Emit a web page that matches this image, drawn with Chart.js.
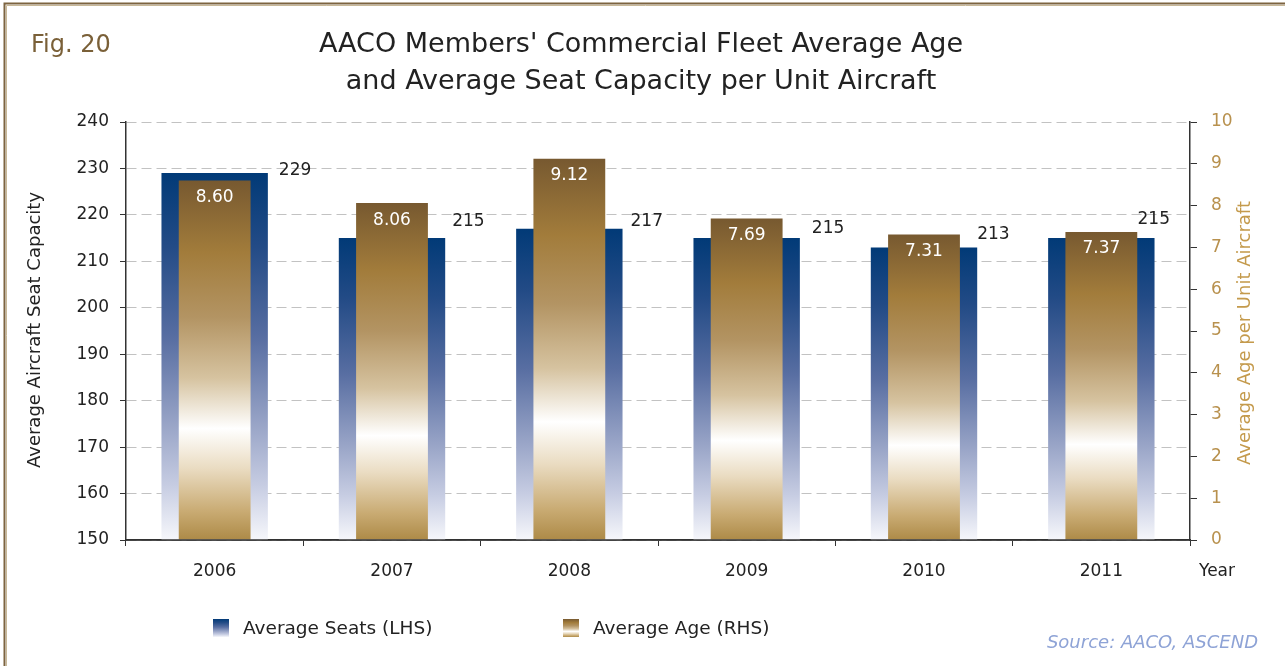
<!DOCTYPE html>
<html><head><meta charset="utf-8">
<script src="https://cdn.jsdelivr.net/npm/chart.js@4.4.1/dist/chart.umd.min.js"></script>
<style>html,body{margin:0;padding:0;background:#fff;}canvas{display:block}</style>
</head><body>
<canvas id="c" width="1285" height="666"></canvas>
<script>
const years = ['2006', '2007', '2008', '2009', '2010', '2011'];
const avgSeats = [229, 215, 217, 215, 213, 215];
const avgAge = [8.60, 8.06, 9.12, 7.69, 7.31, 7.37];
const seatLabelOffsets = [[11, -3], [7, -17], [8, -7], [12, -10], [0, -13], [-17, -19]];

const FONT = '"DejaVu Sans", sans-serif';

function barGradient(ctx, scaleId, stops, fallback) {
  const chart = ctx.chart;
  if (!chart.chartArea || ctx.type !== 'data') return fallback;
  const s = chart.scales[scaleId];
  const top = s.getPixelForValue(ctx.raw);
  const bottom = s.getPixelForValue(s.min);
  if (!isFinite(top) || !isFinite(bottom) || top === bottom) return fallback;
  const g = chart.ctx.createLinearGradient(0, top, 0, bottom);
  stops.forEach(([p, c]) => g.addColorStop(p, c));
  return g;
}
const blueStops = [[0, '#013a77'], [0.2, '#234b86'], [0.45, '#586ea2'], [0.68, '#97a3c6'], [0.85, '#c6cce2'], [1, '#f6f7fb']];
const brownStops = [[0, '#775930'], [0.2, '#a27c3b'], [0.38, '#b39463'], [0.55, '#d6c3a0'], [0.69, '#ffffff'], [0.8, '#eadcc2'], [0.92, '#c9ab73'], [1, '#ad8a47']];

const decor = {
  id: 'decor',
  afterDraw(chart) {
    const c = chart.ctx;
    c.save();
    // frame
    c.strokeStyle = '#7d6440'; c.lineWidth = 2;
    c.beginPath(); c.moveTo(4.5, 666); c.lineTo(4.5, 3.5); c.lineTo(1285, 3.5); c.stroke();
    c.strokeStyle = '#c8b898'; c.lineWidth = 1;
    c.beginPath(); c.moveTo(6.5, 666); c.lineTo(6.5, 5.5); c.lineTo(1285, 5.5); c.stroke();
    // Fig label
    c.textBaseline = 'middle';
    c.fillStyle = '#7a6038'; c.font = '24px ' + FONT; c.textAlign = 'left';
    c.fillText('Fig. 20', 31, 46);
    // title
    c.fillStyle = '#222'; c.font = '27px ' + FONT; c.textAlign = 'center';
    c.fillText("AACO Members' Commercial Fleet Average Age", 641, 45);
    c.fillText('and Average Seat Capacity per Unit Aircraft', 641, 82);
    // axis titles
    c.font = '18px ' + FONT;
    c.save(); c.translate(35, 330); c.rotate(-Math.PI / 2); c.fillStyle = '#222';
    c.fillText('Average Aircraft Seat Capacity', 0, 0); c.restore();
    c.save(); c.translate(1245, 333); c.rotate(-Math.PI / 2); c.fillStyle = '#c49a4c';
    c.fillText('Average Age per Unit Aircraft', 0, 0); c.restore();
    // Year
    c.font = '17px ' + FONT; c.fillStyle = '#222'; c.textAlign = 'left';
    c.fillText('Year', 1199, 572);
    // legend
    const legend = [
      {x: 213, text: 'Average Seats (LHS)', stops: blueStops},
      {x: 563, text: 'Average Age (RHS)', stops: brownStops}
    ];
    legend.forEach(it => {
      const g = c.createLinearGradient(0, 619, 0, 637);
      it.stops.forEach(([p, col]) => g.addColorStop(p, col));
      c.fillStyle = g; c.fillRect(it.x, 619, 16, 18);
      c.fillStyle = '#222'; c.font = '18.5px ' + FONT; c.textAlign = 'left';
      c.fillText(it.text, it.x + 30, 629);
    });
    // source
    c.font = 'italic 18px ' + FONT; c.fillStyle = '#8ea3d6'; c.textAlign = 'right';
    c.fillText('Source: AACO, ASCEND', 1258, 643);
    c.restore();
  },
  afterDatasetsDraw(chart) {
    const c = chart.ctx;
    const area = chart.chartArea;
    c.save();
    // redraw the category axis baseline over the bars
    c.strokeStyle = '#333'; c.lineWidth = 1.5;
    c.beginPath(); c.moveTo(area.left, area.bottom); c.lineTo(area.right, area.bottom); c.stroke();
    c.textBaseline = 'middle';
    const seatsMeta = chart.getDatasetMeta(0);
    c.font = '17px ' + FONT; c.fillStyle = '#222'; c.textAlign = 'left';
    seatsMeta.data.forEach((bar, i) => {
      const off = seatLabelOffsets[i];
      c.fillText(String(avgSeats[i]), bar.x + bar.width / 2 + off[0], bar.y + off[1]);
    });
    const ageMeta = chart.getDatasetMeta(1);
    c.fillStyle = '#ffffff'; c.textAlign = 'center'; c.font = '17px ' + FONT;
    ageMeta.data.forEach((bar, i) => {
      c.fillText(avgAge[i].toFixed(2), bar.x, bar.y + 17);
    });
    c.restore();
  }
};

new Chart(document.getElementById('c'), {
  type: 'bar',
  data: {
    labels: years,
    datasets: [
      {label: 'Average Seats (LHS)', data: avgSeats, yAxisID: 'y', order: 2,
       backgroundColor: ctx => barGradient(ctx, 'y', blueStops, '#013a77'),
       barPercentage: 0.6, categoryPercentage: 1, grouped: false},
      {label: 'Average Age (RHS)', data: avgAge, yAxisID: 'y1', order: 1,
       backgroundColor: ctx => barGradient(ctx, 'y1', brownStops, '#a27c3b'),
       barPercentage: 0.405, categoryPercentage: 1, grouped: false}
    ]
  },
  options: {
    responsive: false,
    devicePixelRatio: 1,
    animation: false,
    layout: {padding: {top: 122, left: 0, right: 0, bottom: 0}},
    plugins: {legend: {display: false}, tooltip: {enabled: false}, title: {display: false}},
    scales: {
      x: {
        afterFit(s) { s.height = 126; },
        grid: {offset: true, drawOnChartArea: false, tickLength: 6, color: '#333', tickColor: '#333'},
        border: {color: '#333', width: 1.5},
        ticks: {color: '#222', font: {family: FONT, size: 17}, padding: 15}
      },
      y: {
        position: 'left', min: 150, max: 240,
        afterFit(s) { s.width = 126; },
        ticks: {stepSize: 10, color: '#222', font: {family: FONT, size: 17}, padding: 11},
        grid: {color: '#c2c2c2', lineWidth: 1, tickLength: 6, tickColor: '#333', tickBorderDash: [], drawTicks: true},
        border: {color: '#333', width: 1.5, dash: [10, 5]}
      },
      y1: {
        position: 'right', min: 0, max: 10,
        afterFit(s) { s.width = 95; },
        ticks: {stepSize: 1, color: '#b8914e', font: {family: FONT, size: 17}, padding: 14},
        grid: {drawOnChartArea: false, tickLength: 7, tickColor: '#333', color: '#333'},
        border: {color: '#333', width: 1.5}
      }
    }
  },
  plugins: [decor]
});
</script>
</body></html>
